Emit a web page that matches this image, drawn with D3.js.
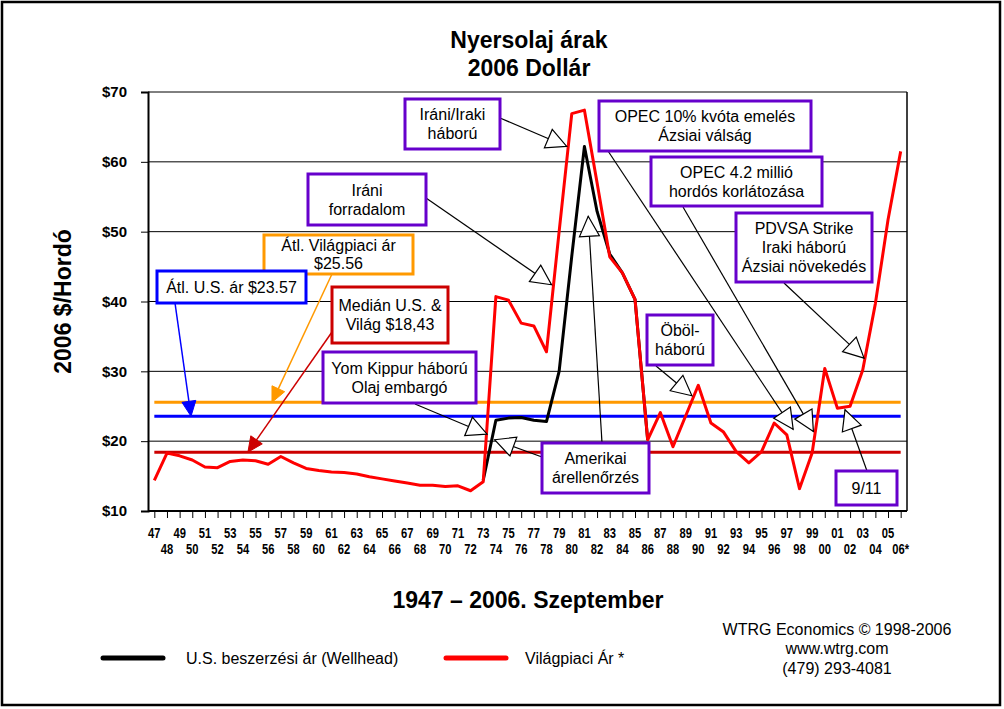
<!DOCTYPE html>
<html>
<head>
<meta charset="utf-8">
<script src="https://cdn.jsdelivr.net/npm/d3@7"></script>
<style>
  body { margin: 0; background: #fff; }
  svg { display: block; font-family: "Liberation Sans", Arial, sans-serif; }
</style>
</head>
<body>
<div id="chart"></div>
<script>
// ---- data (2006 dollars per barrel) ----
const yearLabels = ["47","48","49","50","51","52","53","54","55","56","57","58","59","60",
  "61","62","63","64","65","66","67","68","69","70","71","72","73","74","75","76","77","78",
  "79","80","81","82","83","84","85","86","87","88","89","90","91","92","93","94","95","96",
  "97","98","99","00","01","02","03","04","05","06*"];
const years = yearLabels.map((d, i) => 1947 + i);

const worldPrice = [14.4, 18.3, 17.9, 17.3, 16.3, 16.2, 17.1, 17.3, 17.2, 16.7,
  17.8, 16.9, 16.1, 15.8, 15.6, 15.5, 15.3, 14.9, 14.6, 14.3,
  14.0, 13.7, 13.7, 13.5, 13.6, 12.9, 14.2, 40.7, 40.2, 36.9,
  36.5, 32.8, 50.0, 66.9, 67.4, 57.0, 46.4, 44.1, 40.3, 20.2,
  24.1, 19.2, 23.6, 28.0, 22.6, 21.3, 18.5, 16.9, 18.5, 22.6,
  20.9, 13.2, 18.3, 30.4, 24.7, 25.0, 30.2, 39.7, 51.7, 61.5];

// US wellhead price, only visible where it departs from the world price
const usPrice = [null, null, null, null, null, null, null, null, null, null,
  null, null, null, null, null, null, null, null, null, null,
  null, null, null, null, null, null, 14.4, 23.0, 23.3, 23.4,
  23.0, 22.8, 30.0, 46.5, 62.2, 52.9, 46.8, 44.1, 40.3, 20.2,
  null, null, null, null, null, null, null, null, null, null,
  null, null, null, null, null, null, null, null, null, null];

const avgWorld = 25.56;
const avgUS = 23.57;
const medianPrice = 18.43;
const yTicks = [10, 20, 30, 40, 50, 60, 70];

const purple = "#6600cc";

// annotation boxes: box = [x, y, w, h], arrows point at [year, price]
const notes = [
  { lines: ["Iráni/Iraki", "háború"], box: [405, 99, 95, 50], color: purple,
    arrows: [{ from: [500, 118], to: [1979.6, 62.2], head: "open" }] },
  { lines: ["Iráni", "forradalom"], box: [308, 174, 118, 51], color: purple,
    arrows: [{ from: [426, 198], to: [1978.4, 42.4], head: "open" }] },
  { lines: ["OPEC 10% kvóta emelés", "Ázsiai válság"], box: [599, 101, 212, 50], color: purple,
    arrows: [{ from: [608, 151], to: [1997.5, 21.7], head: "open" }] },
  { lines: ["OPEC 4.2  millió", "hordós korlátozása"], box: [651, 157, 171, 49], color: purple,
    arrows: [{ from: [683, 207], to: [1999.1, 21.4], head: "open" }] },
  { lines: ["PDVSA Strike", "Iraki háború", "Ázsiai növekedés"], box: [736, 213, 136, 69], color: purple,
    arrows: [{ from: [784, 283], to: [2003.1, 31.9], head: "open" }] },
  { lines: ["Átl. Világpiaci ár", "$25.56"], box: [264, 235, 149, 39], color: "#ff9900", lh: 18,
    arrows: [{ from: [332, 274], to: [1956.3, avgWorld], head: "fill" }] },
  { lines: ["Átl. U.S. ár $23.57"], box: [157, 271, 149, 32], color: "#0000ff",
    arrows: [{ from: [175, 303], to: [1949.9, avgUS], head: "fill" }] },
  { lines: ["Medián U.S. &", "Világ $18,43"], box: [332, 287, 116, 56], color: "#cc0000",
    arrows: [{ from: [332, 332], to: [1954.4, medianPrice], head: "fill" }] },
  { lines: ["Yom Kippur háború", "Olaj embargó"], box: [323, 352, 153, 51], color: purple,
    arrows: [{ from: [415, 404], to: [1973.3, 21.0], head: "open" }] },
  { lines: ["Amerikai", "árellenőrzés"], box: [542, 443, 107, 50], color: purple,
    arrows: [{ from: [542, 457], to: [1973.9, 20.2], head: "open" },
             { from: [602, 443], to: [1981.3, 52.2], head: "open" }] },
  { lines: ["Öböl-", "háború"], box: [647, 315, 66, 50], color: purple,
    arrows: [{ from: [656, 366], to: [1989.5, 26.5], head: "open" }] },
  { lines: ["9/11"], box: [836, 471, 61, 34], color: purple,
    arrows: [{ from: [867, 471], to: [2001.6, 24.5], head: "open" }] }
];

// ---- layout ----
const W = 1004, H = 709;
const plot = { left: 148, right: 907, top: 92, bottom: 511 };

const svg = d3.select("#chart").append("svg")
  .attr("width", W).attr("height", H);

svg.append("rect")
  .attr("x", 2).attr("y", 2).attr("width", 998).attr("height", 703)
  .attr("fill", "#fff").attr("stroke", "#000").attr("stroke-width", 2.5);

const x = d3.scalePoint().domain(years).range([plot.left, plot.right]).padding(0.5);
const y = d3.scaleLinear().domain([10, 70]).range([plot.bottom, plot.top]);
// fractional year -> x, for annotation targets
const xf = yr => x(years[0]) + (yr - years[0]) * x.step();

// titles
svg.append("text").attr("x", 529).attr("y", 40).attr("dy", "0.35em")
  .attr("text-anchor", "middle").style("font-size", "23px").style("font-weight", "700")
  .text("Nyersolaj árak");
svg.append("text").attr("x", 529).attr("y", 68).attr("dy", "0.35em")
  .attr("text-anchor", "middle").style("font-size", "23px").style("font-weight", "700")
  .text("2006 Dollár");

svg.append("text")
  .attr("transform", `translate(63,${(plot.top + plot.bottom) / 2}) rotate(-90)`)
  .attr("dy", "0.35em").attr("text-anchor", "middle")
  .style("font-size", "23px").style("font-weight", "700")
  .text("2006 $/Hordó");

svg.append("text").attr("x", 528).attr("y", 600).attr("dy", "0.35em")
  .attr("text-anchor", "middle").style("font-size", "23px").style("font-weight", "700")
  .text("1947 – 2006. Szeptember");

// gridlines + plot frame
svg.append("g").selectAll("line").data(yTicks.slice(1)).join("line")
  .attr("x1", plot.left).attr("x2", plot.right)
  .attr("y1", d => y(d)).attr("y2", d => y(d))
  .attr("stroke", "#000").attr("stroke-width", 1);
svg.append("line")
  .attr("x1", plot.right).attr("x2", plot.right)
  .attr("y1", plot.top).attr("y2", plot.bottom)
  .attr("stroke", "#000").attr("stroke-width", 1.5);

// y axis
const yAxis = svg.append("g")
  .attr("transform", `translate(${plot.left},0)`)
  .call(d3.axisLeft(y).tickValues(yTicks).tickSize(7).tickPadding(14).tickFormat(d => "$" + d));
yAxis.select(".domain").attr("stroke-width", 2);
yAxis.selectAll("text").style("font-size", "15px").style("font-weight", "700")
  .style("font-family", "Liberation Sans, Arial, sans-serif").attr("fill", "#000");

// x axis
const xAxis = svg.append("g")
  .attr("transform", `translate(0,${plot.bottom})`)
  .call(d3.axisBottom(x).tickSize(7).tickFormat(""));
xAxis.select(".domain").attr("stroke-width", 2).attr("d", `M${plot.left},0H${plot.right}`);

svg.append("g").selectAll("text").data(years).join("text")
  .attr("transform", (d, i) => `translate(${x(d)},${i % 2 === 0 ? 533 : 549}) scale(0.8,1)`)
  .attr("dy", "0.35em").attr("text-anchor", "middle")
  .style("font-size", "14px").style("font-weight", "700")
  .text((d, i) => yearLabels[i]);

// average / median reference lines
const refLines = [
  { v: avgWorld, c: "#ff9900" },
  { v: avgUS, c: "#0000ff" },
  { v: medianPrice, c: "#cc0000" }
];
svg.append("g").selectAll("line").data(refLines).join("line")
  .attr("x1", x(years[0])).attr("x2", x(years[years.length - 1]))
  .attr("y1", d => y(d.v)).attr("y2", d => y(d.v))
  .attr("stroke", d => d.c).attr("stroke-width", 3);

// price lines
const line = d3.line()
  .defined(d => d[1] != null)
  .x(d => x(d[0])).y(d => y(d[1]));

svg.append("path")
  .datum(years.map((yr, i) => [yr, usPrice[i]]))
  .attr("d", line).attr("fill", "none")
  .attr("stroke", "#000").attr("stroke-width", 3).attr("stroke-linejoin", "round");

svg.append("path")
  .datum(years.map((yr, i) => [yr, worldPrice[i]]))
  .attr("d", line).attr("fill", "none")
  .attr("stroke", "#ff0000").attr("stroke-width", 3).attr("stroke-linejoin", "round");

// annotations
const annG = svg.append("g");

function arrowHead(x1, y1, x2, y2, len, half) {
  const dx = x2 - x1, dy = y2 - y1, n = Math.hypot(dx, dy);
  const ux = dx / n, uy = dy / n;
  const bx = x2 - ux * len, by = y2 - uy * len;
  return [[x2, y2], [bx - uy * half, by + ux * half], [bx + uy * half, by - ux * half]];
}

notes.forEach(n => {
  n.arrows.forEach(a => {
    const tx = xf(a.to[0]), ty = y(a.to[1]);
    const open = a.head === "open";
    const lineColor = open ? "#000" : n.color;
    annG.append("line")
      .attr("x1", a.from[0]).attr("y1", a.from[1]).attr("x2", tx).attr("y2", ty)
      .attr("stroke", lineColor).attr("stroke-width", open ? 1.2 : 1.5);
    const pts = open ? arrowHead(a.from[0], a.from[1], tx, ty, 20, 10)
                     : arrowHead(a.from[0], a.from[1], tx, ty, 15, 7);
    annG.append("polygon")
      .attr("points", pts.map(p => p.join(",")).join(" "))
      .attr("fill", open ? "#fff" : n.color)
      .attr("stroke", lineColor).attr("stroke-width", open ? 1.2 : 1);
  });
});

notes.forEach(n => {
  const [bx, by, bw, bh] = n.box;
  annG.append("rect")
    .attr("x", bx).attr("y", by).attr("width", bw).attr("height", bh)
    .attr("fill", "#fff").attr("stroke", n.color).attr("stroke-width", 3);
  const lh = n.lh || 19;
  annG.append("g").selectAll("text").data(n.lines).join("text")
    .attr("x", bx + bw / 2)
    .attr("y", (d, i) => by + bh / 2 + (i - (n.lines.length - 1) / 2) * lh)
    .attr("dy", "0.35em").attr("text-anchor", "middle")
    .style("font-size", "16px").attr("fill", "#000")
    .text(d => d);
});

// legend
const legendItems = [
  { label: "U.S. beszerzési ár (Wellhead)", color: "#000", x: 103 },
  { label: "Világpiaci Ár *", color: "#ff0000", x: 446 }
];
const lg = svg.append("g").selectAll("g").data(legendItems).join("g")
  .attr("transform", d => `translate(${d.x},658)`);
lg.append("line").attr("x1", 0).attr("x2", 60)
  .attr("stroke", d => d.color).attr("stroke-width", 5).attr("stroke-linecap", "round");
lg.append("text").attr("x", d => d.x === 103 ? 83 : 79).attr("dy", "0.35em")
  .style("font-size", "16px").text(d => d.label);

// source
const sourceLines = ["WTRG Economics © 1998-2006", "www.wtrg.com", "(479) 293-4081"];
svg.append("g").selectAll("text").data(sourceLines).join("text")
  .attr("x", 837).attr("y", (d, i) => 629 + i * 19.5).attr("dy", "0.35em")
  .attr("text-anchor", "middle").style("font-size", "16px")
  .text(d => d);
</script>
</body>
</html>
